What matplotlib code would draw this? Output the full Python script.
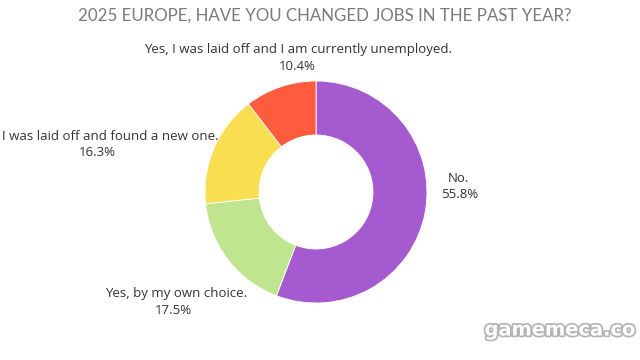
import matplotlib
matplotlib.use("Agg")
import matplotlib.pyplot as plt
import matplotlib.patheffects as pe

title = "2025 EUROPE, HAVE YOU CHANGED JOBS IN THE PAST YEAR?"
answers = ["No.", "Yes, by my own choice.",
           "I was laid off and found a new one.",
           "Yes, I was laid off and I am currently unemployed."]
shares = [55.8, 17.5, 16.3, 10.4]
colors = ["#a55bcf", "#bfe68f", "#f9de52", "#ff5b3c"]

W, H = 640, 360
fig = plt.figure(figsize=(6.4, 3.6), dpi=100)
ax = fig.add_axes([0, 0, 1, 1])

cx, cy, r = 316, H - 192, 111
ax.pie(shares, colors=colors, startangle=90, counterclock=False,
       center=(cx, cy), radius=r, frame=True,
       wedgeprops=dict(width=54, edgecolor="white", linewidth=0.6))
ax.set_xlim(0, W)
ax.set_ylim(0, H)
ax.set_aspect("equal")
ax.axis("off")

fig.text(0.508, 1 - 16 / H, title, ha="center", va="center",
         fontsize=12.2, color="#7a7a7a", family="Lato")

# label spots in pixels: x of name, y of name, x of percent, y of percent, align
spots = [(458, 179, 460, 194, "center"),
         (176, 293, 173, 310, "center"),
         (219, 137, 97, 152, "right"),
         (298, 50, 297, 67, "center")]
lab = dict(fontsize=9.5, color="#333333", family="Open Sans", va="center")
for name, pct, (x1, y1, x2, y2, ha) in zip(answers, shares, spots):
    ax.text(x1, H - y1, name, ha=ha, **lab)
    ax.text(x2, H - y2, f"{pct}%", ha="center", **lab)

wm = ax.text(636, H - 330, "gamemeca.co", ha="right", va="center",
             fontsize=14, fontweight="bold", color="white", family="DejaVu Sans")
wm.set_path_effects([pe.withStroke(linewidth=2.5, foreground="#b5b5b5")])

fig.savefig("out.png", dpi=100)
